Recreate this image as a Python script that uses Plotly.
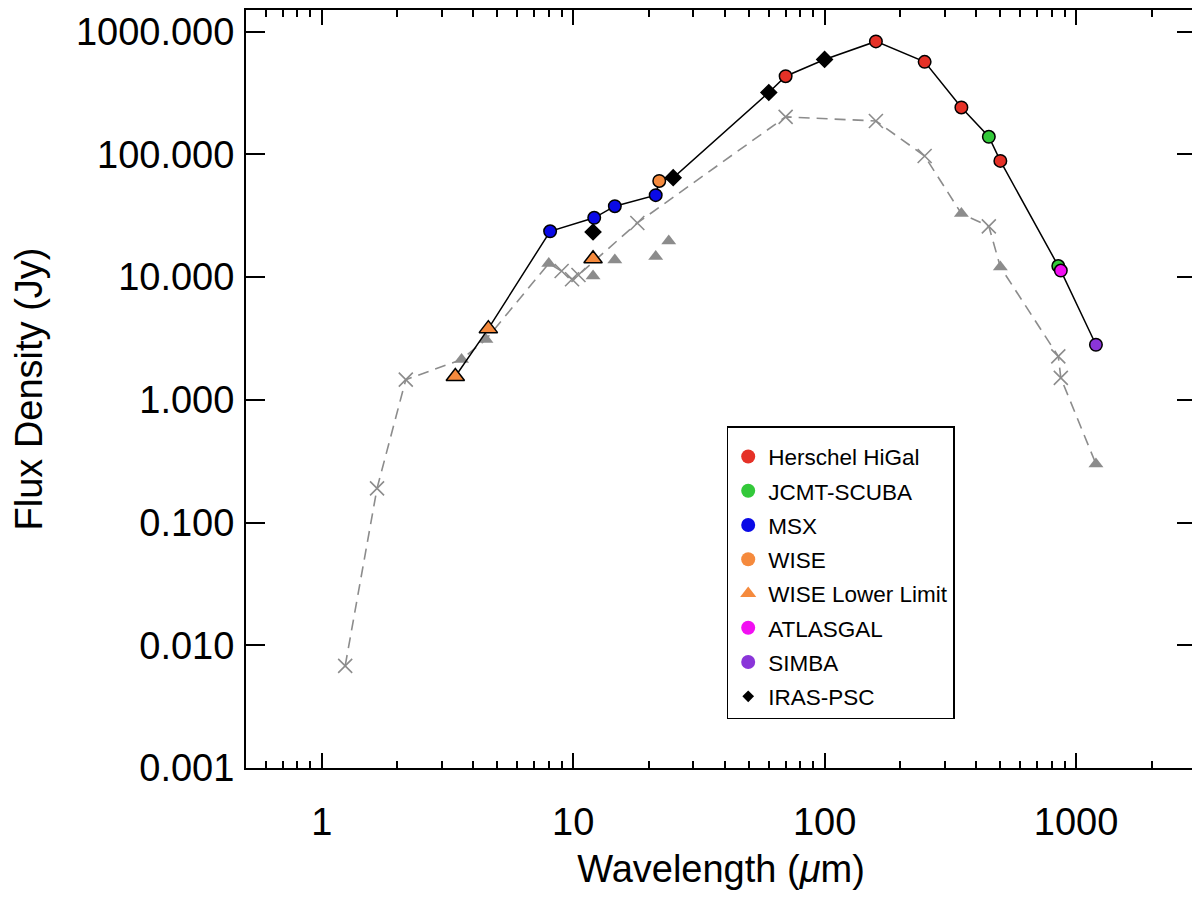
import plotly.graph_objects as go

FONT = "Liberation Sans, Arial, Helvetica, sans-serif"
GRAY = "#8c8c8c"

# measured SED, one pair of arrays per survey (wavelength in um, flux in Jy)
herschel_wl = [70, 160, 250, 350, 500]
herschel_flux = [433, 832, 567, 241, 88.4]
scuba_wl = [450, 850]
scuba_flux = [139, 12.3]
msx_wl = [8.1, 12.13, 14.65, 21.3]
msx_flux = [23.6, 30.4, 37.8, 46.5]
wise_wl = [22]
wise_flux = [60.7]
wise_ll_wl = [3.4, 4.6, 12]
wise_ll_flux = [1.55, 3.8, 14.1]
atlasgal_wl = [870]
atlasgal_flux = [11.3]
simba_wl = [1200]
simba_flux = [2.81]
iras_wl = [12, 25, 60, 100]
iras_flux = [23.3, 64.5, 319, 593]

# grey comparison SED
cmp_cross_wl = [1.24, 1.66, 2.16, 9.0, 9.9, 10.5, 18, 70, 160, 250, 450, 850, 870]
cmp_cross_flux = [0.0068, 0.19, 1.46, 11.2, 9.6, 10.4, 27.6, 202, 187, 97, 25.9, 2.26, 1.51]
cmp_tri_wl = [3.6, 4.5, 8.0, 350, 500, 1200]
cmp_tri_flux = [2.13, 3.1, 12.9, 32.9, 12.1, 0.30]
cmp_extra_wl = [12, 14.65, 21.3, 24]
cmp_extra_flux = [10.2, 13.8, 14.7, 19.7]

x_ticks = [1, 10, 100, 1000]
x_minor = [0.6, 0.7, 0.8, 0.9] + [m * d for d in (1, 10, 100) for m in range(2, 10)] + [2000, 3000]
y_ticks = [0.001, 0.01, 0.1, 1, 10, 100, 1000]

surveys = [
    ("Herschel HiGal", herschel_wl, herschel_flux, "#e53127", "circle", 12.5),
    ("JCMT-SCUBA", scuba_wl, scuba_flux, "#33c93a", "circle", 12.5),
    ("MSX", msx_wl, msx_flux, "#0a0ae6", "circle", 12.5),
    ("WISE", wise_wl, wise_flux, "#f58a3d", "circle", 12.5),
    ("WISE Lower Limit", wise_ll_wl, wise_ll_flux, "#f58a3d", "triangle-up", 16),
    ("ATLASGAL", atlasgal_wl, atlasgal_flux, "#f20ff2", "circle", 12.5),
    ("SIMBA", simba_wl, simba_flux, "#8a35d9", "circle", 12.5),
    ("IRAS-PSC", iras_wl, iras_flux, "#000000", "diamond", 12),
]

fig = go.Figure()

# grey comparison: dashed line through crosses and the in-line triangles
path = sorted(zip(cmp_cross_wl + cmp_tri_wl, cmp_cross_flux + cmp_tri_flux))
fig.add_trace(go.Scatter(
    x=[p[0] for p in path], y=[p[1] for p in path], mode="lines",
    line=dict(color=GRAY, width=1.6, dash="11px,7px"), showlegend=False,
))
fig.add_trace(go.Scatter(
    x=cmp_cross_wl, y=cmp_cross_flux, mode="markers",
    marker=dict(symbol="x-thin", size=14, line=dict(color=GRAY, width=1.6)),
    showlegend=False,
))
fig.add_trace(go.Scatter(
    x=cmp_tri_wl + cmp_extra_wl, y=cmp_tri_flux + cmp_extra_flux, mode="markers",
    marker=dict(symbol="triangle-up", size=13, color=GRAY, line=dict(width=0)),
    showlegend=False,
))

# solid line: brightest detection at each wavelength
best = {}
for _, wl, fl, *_ in surveys:
    for w, f in zip(wl, fl):
        k = round(w)
        if k not in best or f > best[k][1]:
            best[k] = (w, f)
line_pts = sorted(best.values())
fig.add_trace(go.Scatter(
    x=[p[0] for p in line_pts], y=[p[1] for p in line_pts], mode="lines",
    line=dict(color="black", width=1.5), showlegend=False,
))

for name, wl, fl, color, symbol, size in surveys:
    fig.add_trace(go.Scatter(
        x=wl, y=fl, mode="markers", showlegend=False,
        marker=dict(symbol=symbol, size=size, color=color, line=dict(color="black", width=1.5)),
    ))
    # legend-only entry (legend glyphs have no outline)
    fig.add_trace(go.Scatter(
        x=[None], y=[None], mode="markers", name=name, legendgroup=name,
        marker=dict(symbol=symbol, size=14 if symbol != "diamond" else 9, color=color,
                    line=dict(width=0)),
    ))

axis_common = dict(
    type="log", showline=True, linecolor="black", linewidth=2, mirror="allticks",
    ticks="inside", tickcolor="black", tickwidth=2, showgrid=False, zeroline=False,
    tickfont=dict(family=FONT, size=38, color="black"),
)
fig.update_xaxes(
    **axis_common,
    range=[-0.30103, 3.4771], tickvals=x_ticks, ticktext=[str(v) for v in x_ticks],
    ticklen=15, ticklabelstandoff=19,
    minor=dict(tickvals=x_minor, ticks="inside", ticklen=7, tickcolor="black", tickwidth=1.5),
    title=dict(text="Wavelength (<i>μ</i>m)", font=dict(family=FONT, size=38, color="black"),
               standoff=14),
)
fig.update_yaxes(
    **axis_common,
    range=[-3, 3.1761], tickvals=y_ticks, tickformat=".3f", ticklen=19, ticklabelstandoff=2,
    title=dict(text="Flux Density (Jy)", font=dict(family=FONT, size=38, color="black"),
               standoff=31),
)
fig.update_layout(
    width=1200, height=903,
    margin=dict(l=238, r=12, t=2, b=143, autoexpand=False),
    paper_bgcolor="white", plot_bgcolor="white",
    font=dict(family=FONT, color="black"),
    legend=dict(
        x=0.506, y=0.451, xanchor="left", yanchor="top",
        bordercolor="black", borderwidth=1.5, bgcolor="white",
        font=dict(family=FONT, size=22.5, color="black"),
        tracegroupgap=2, traceorder="grouped",
        entrywidth=190, entrywidthmode="pixels",
        title=dict(text=" ", font=dict(size=6)),
    ),
)

fig.write_html("out.html")
